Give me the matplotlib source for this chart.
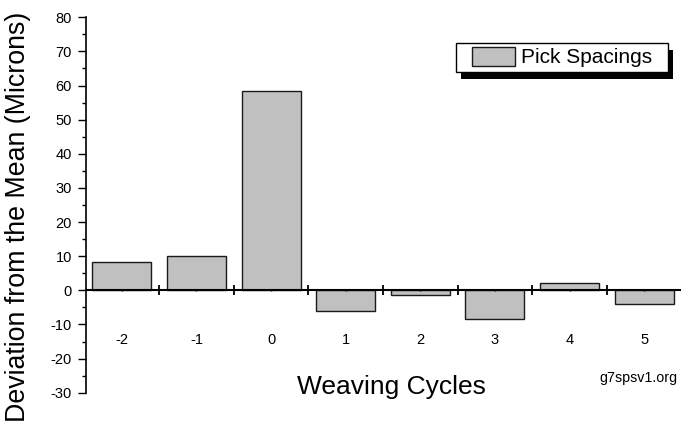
import numpy as np
import matplotlib
matplotlib.use('Agg')
import matplotlib.pyplot as plt
from matplotlib.patches import Rectangle
from matplotlib.transforms import IdentityTransform

plt.rcParams['font.family'] = ['Liberation Sans', 'DejaVu Sans']
plt.rcParams['axes.unicode_minus'] = False

# data
cycles = [-2, -1, 0, 1, 2, 3, 4, 5]
deviation = [8.3, 10.0, 58.4, -6.1, -1.4, -8.3, 2.1, -3.9]
series_name = 'Pick Spacings'

fig = plt.figure(figsize=(6.81, 4.26), dpi=100)
ax = fig.add_axes([86 / 681, 33.3 / 426, 594 / 681, 375.4 / 426])

ax.bar(cycles, deviation, width=0.79, color='#c0c0c0', edgecolor='#1a1a1a',
       linewidth=1.0, label=series_name)

ax.set_xlim(-2.48, 5.48)
ax.set_ylim(-30, 80)

# axes: only the left spine and a zero line
ax.spines['top'].set_visible(False)
ax.spines['right'].set_visible(False)
ax.spines['left'].set_linewidth(1.2)
ax.spines['bottom'].set_position(('data', 0))
ax.spines['bottom'].set_linewidth(1.5)

ax.set_yticks(np.arange(-30, 81, 10))
ax.set_yticks(np.arange(-30, 81, 5), minor=True)
ax.tick_params(axis='y', which='major', direction='out', length=5.5, width=1,
               labelsize=10.5, pad=4.5)
ax.tick_params(axis='y', which='minor', direction='out', length=3, width=1)

ax.set_xticks(cycles)
ax.set_xticklabels([str(c) for c in cycles])
ax.set_xticks(np.arange(-1.5, 5, 1), minor=True)
ax.tick_params(axis='x', which='major', direction='inout', length=1.5, width=1,
               labelsize=10.5, pad=30)
ax.tick_params(axis='x', which='minor', direction='inout', length=6.5, width=1.3)

ax.set_ylabel('Deviation from the Mean (Microns)', fontsize=19.3)
ax.yaxis.set_label_coords(-0.114, 0.468)
ax.yaxis.label.set_va('center')
ax.set_xlabel('Weaving Cycles', fontsize=19)
ax.xaxis.set_label_coords(0.515, -0.0035)
ax.xaxis.label.set_va('baseline')

fig.text(677 / 681, 44.3 / 426, 'g7spsv1.org', ha='right', va='baseline',
         fontsize=10.3)

leg = ax.legend(loc='upper right', bbox_to_anchor=(0.9604, 0.9323),
                borderaxespad=0, borderpad=0.2, fontsize=15, fancybox=False,
                handlelength=2.07, handleheight=1.0, handletextpad=0.3)
frame = leg.get_frame()
frame.set_edgecolor('black')
frame.set_linewidth(1.0)
frame.set_alpha(1)
frame.set_boxstyle('square', pad=0.55)
frame.set_mutation_aspect(0.01)

# solid black drop shadow behind the legend box
fig.canvas.draw()
bb = frame.get_window_extent()
shadow = Rectangle((bb.x0 + 5, bb.y0 - 7), bb.width, bb.height,
                   transform=IdentityTransform(), facecolor='black',
                   edgecolor='none', zorder=leg.get_zorder() - 0.1, clip_on=False)
ax.add_artist(shadow)

plt.savefig('out.png', dpi=100)
